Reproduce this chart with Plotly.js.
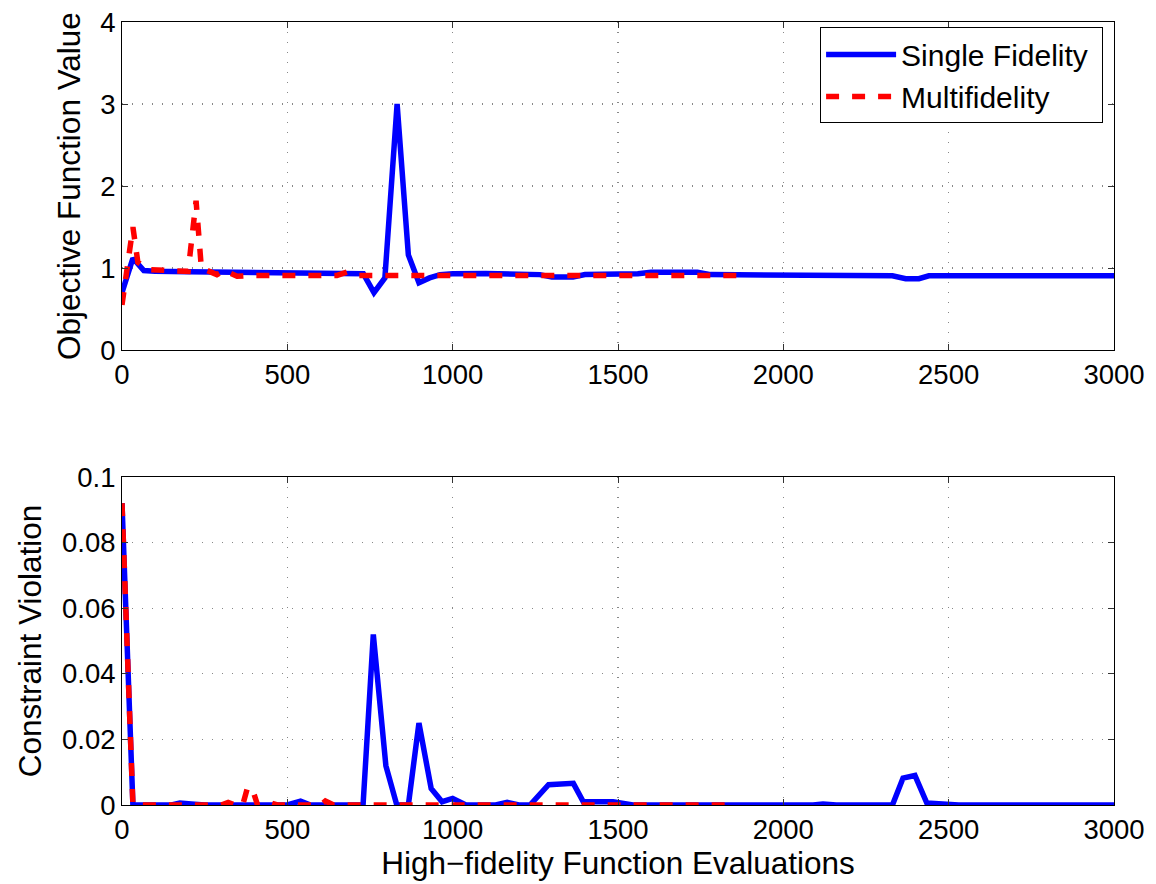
<!DOCTYPE html>
<html>
<head>
<meta charset="utf-8">
<script src="https://cdn.plot.ly/plotly-3.0.1.min.js"></script>
<style>
  html, body { margin: 0; padding: 0; background: #ffffff; }
  #chart { width: 1156px; height: 884px; }
</style>
</head>
<body>
<div id="chart"></div>
<script>
// Single-fidelity run: objective history
const sfObjEvals = [0, 33, 66, 100, 200, 300, 400, 500, 600, 700, 730, 762, 795, 832, 866, 898, 930, 962,
  1000, 1100, 1200, 1264, 1300, 1364, 1400, 1500, 1560, 1600, 1740, 1780, 2000, 2090, 2330, 2370, 2410, 2440, 3000];
const sfObjective = [0.70, 1.12, 0.97, 0.96, 0.955, 0.95, 0.945, 0.94, 0.94, 0.935, 0.93, 0.70, 0.88, 3.00, 1.16, 0.82, 0.88, 0.92,
  0.93, 0.935, 0.93, 0.92, 0.89, 0.89, 0.92, 0.92, 0.93, 0.95, 0.95, 0.92, 0.915, 0.905, 0.905, 0.87, 0.87, 0.905, 0.905];

// Multifidelity run: objective history
const mfObjEvals = [0, 33, 48, 80, 200, 224, 240, 287, 310, 348, 400, 650, 680, 710, 1860];
const mfObjective = [0.55, 1.50, 1.07, 0.98, 0.96, 1.82, 1.00, 0.92, 0.97, 0.90, 0.91, 0.91, 0.95, 0.91, 0.91];

// Single-fidelity run: constraint violation history
const sfCvEvals = [0, 33, 150, 175, 210, 250, 500, 540, 570, 729, 760, 798, 831, 866, 898, 935, 968, 1000, 1040,
  1130, 1165, 1200, 1234, 1290, 1365, 1395, 1485, 1545, 2090, 2120, 2160, 2330, 2362, 2398, 2434, 2500, 2530, 3000];
const sfViolation = [0.092, 0, 0, 0.0006, 0.0003, 0, 0, 0.0012, 0, 0, 0.052, 0.012, 0, 0, 0.025, 0.005, 0.001, 0.002, 0,
  0, 0.0008, 0, 0, 0.0062, 0.0066, 0.001, 0.001, 0, 0, 0.0003, 0, 0, 0.0082, 0.0090, 0.0006, 0.0003, 0, 0];

// Multifidelity run: constraint violation history
const mfCvEvals = [0, 33, 300, 321, 340, 365, 380, 397, 410, 440, 450, 470, 600, 615, 640, 1860];
const mfViolation = [0.092, 0, 0, 0.0008, 0, 0, 0.0055, 0.004, 0, 0, 0.0006, 0, 0, 0.0012, 0, 0];

const xTickVals = [0, 500, 1000, 1500, 2000, 2500, 3000];
const objTickVals = [0, 1, 2, 3, 4];
const cvTickVals = [0, 0.02, 0.04, 0.06, 0.08, 0.1];

const FONT = 'Liberation Sans, Arial, Helvetica, sans-serif';
const BLUE = '#0000ff';
const RED = '#ff0000';

// trailing no-break space keeps a little room at the right of the legend box
const SF_NAME = 'Single Fidelity\u00a0';
const MF_NAME = 'Multifidelity';

const traces = [
  { x: sfObjEvals, y: sfObjective, xaxis: 'x', yaxis: 'y', mode: 'lines', name: SF_NAME,
    line: { color: BLUE, width: 5.5 }, legendgroup: 'sf' },
  { x: mfObjEvals, y: mfObjective, xaxis: 'x', yaxis: 'y', mode: 'lines', name: MF_NAME,
    line: { color: RED, width: 5.5, dash: '13px,13px' }, legendgroup: 'mf' },
  { x: sfCvEvals, y: sfViolation, xaxis: 'x2', yaxis: 'y2', mode: 'lines', name: SF_NAME,
    line: { color: BLUE, width: 5.5 }, showlegend: false, legendgroup: 'sf' },
  { x: mfCvEvals, y: mfViolation, xaxis: 'x2', yaxis: 'y2', mode: 'lines', name: MF_NAME,
    line: { color: RED, width: 5.5, dash: '13px,13px' }, showlegend: false, legendgroup: 'mf' }
];

const axisCommon = {
  showline: true, linecolor: '#000', linewidth: 1, mirror: 'ticks',
  ticks: 'inside', ticklen: 6, tickcolor: '#333', tickwidth: 1,
  showgrid: true, gridcolor: '#888', gridwidth: 1.2, griddash: '1px,9px',
  zeroline: false, tickfont: { family: FONT, size: 27.5, color: '#000' }
};

const TITLE_FONT = { family: FONT, size: 31.5, color: '#000' };

const layout = {
  width: 1156, height: 884,
  margin: { l: 122, r: 42, t: 22, b: 79 },
  paper_bgcolor: '#fff', plot_bgcolor: '#fff',
  showlegend: true,
  legend: {
    x: 0.989, xanchor: 'right', y: 0.993, yanchor: 'top',
    bgcolor: '#fff', bordercolor: '#000', borderwidth: 1,
    font: { family: FONT, size: 30, color: '#000' },
    itemwidth: 70, tracegroupgap: 0
  },
  xaxis: Object.assign({}, axisCommon, {
    domain: [0, 1], anchor: 'y', range: [0, 3000], tickvals: xTickVals
  }),
  yaxis: Object.assign({}, axisCommon, {
    domain: [0.581, 1], anchor: 'x', range: [0, 4], tickvals: objTickVals,
    title: { text: 'Objective Function Value', font: TITLE_FONT, standoff: 10 }
  }),
  xaxis2: Object.assign({}, axisCommon, {
    domain: [0, 1], anchor: 'y2', range: [0, 3000], tickvals: xTickVals,
    title: { text: 'High\u2212fidelity Function Evaluations', font: TITLE_FONT, standoff: 6 }
  }),
  yaxis2: Object.assign({}, axisCommon, {
    domain: [0, 0.419], anchor: 'x2', range: [0, 0.1], tickvals: cvTickVals,
    title: { text: 'Constraint Violation', font: TITLE_FONT, standoff: 10 }
  })
};

Plotly.newPlot('chart', traces, layout, { displayModeBar: false, staticPlot: true });
</script>
</body>
</html>
